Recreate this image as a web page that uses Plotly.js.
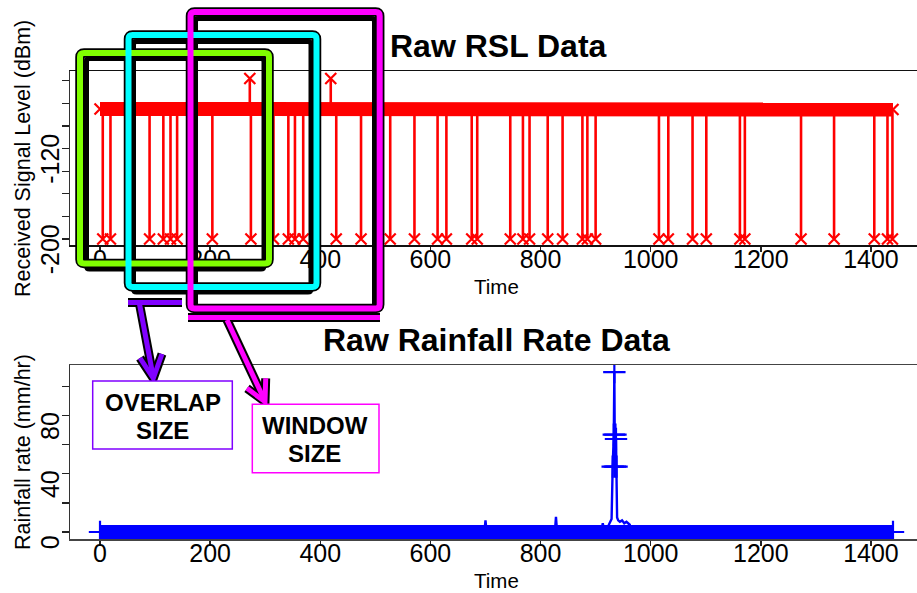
<!DOCTYPE html>
<html>
<head>
<meta charset="utf-8">
<script src="https://cdn.plot.ly/plotly-3.0.1.min.js"></script>
<style>
html,body{margin:0;padding:0;background:#fff;}
#chart{width:917px;height:593px;}
</style>
</head>
<body>
<div id="chart"></div>
<script>
// ---------------- DATA ----------------
const timeTickVals = [0, 200, 400, 600, 800, 1000, 1200, 1400];
const timeTickText = ['0', '200', '400', '600', '800', '1000', '1200', '1400'];
const rslTickVals = [-200, -180, -160, -140, -120, -100, -80, -60];
const rslTickText = ['-200', '', '', '', '-120', '', '', ''];
const rainTickVals = [0, 20, 40, 60, 80, 100];
const rainTickText = ['0', '', '40', '', '80', ''];

// RSL: normal (dense) level over the day
const rslBaseTimes = [0, 100, 200, 300, 400, 500, 600, 700, 800, 900, 950, 1000, 1100, 1200, 1300, 1400, 1440];
const rslBaseValues = [-85, -85, -85, -85, -85, -85, -85.5, -85.5, -85.5, -86.5, -87, -86.5, -86, -85.5, -85.5, -85.5, -85.5];
// RSL: drop-outs to the floor value
const rslDropTimes = [5, 19, 90, 115, 128, 140, 204, 274, 315, 342, 354, 369, 429, 474, 527, 571, 613, 629, 675, 685,
  745, 768, 780, 813, 840, 876, 885, 900, 1015, 1032, 1076, 1101, 1162, 1171, 1273, 1333, 1406, 1430, 1439];
const rslDropLevel = -200;
// RSL: upward outliers
const rslSpikeTimes = [272, 419];
const rslSpikeLevel = -58;

// Rainfall
const rainBaseTimes = [0, 1440];
const rainBaseValues = [0, 0];
const rainTimes = [0, 698, 700, 702, 826, 828, 830, 910, 913, 916, 924, 927, 929, 931, 933, 934, 935, 936, 937, 938, 939, 941, 944, 948, 952, 956, 962, 965, 1440];
const rainValues = [0, 0, 8, 0, 0, 10.5, 0, 0, 6, 0, 5, 7, 9, 45, 67, 110, 45, 67, 64, 45, 10, 8, 7, 8, 6, 7, 5, 0, 0];

// ---------------- HELPERS ----------------
const W = 917, H = 593;
const FONT = 'Liberation Sans, Arial, Helvetica, sans-serif';
const RED = '#ff0000', BLUE = '#0000ff';
function PX(x) { return (x / W).toFixed(5); }
function PY(y) { return (1 - y / H).toFixed(5); }
function P(x, y) { return PX(x) + ',' + PY(y); }
function poly(pts) { return pts.map((p, i) => (i ? 'L' : 'M') + P(p[0], p[1])).join(' '); }
function rrect(x0, y0, x1, y1, r) {
  return 'M' + P(x0 + r, y0) + ' L' + P(x1 - r, y0) + ' Q' + P(x1, y0) + ' ' + P(x1, y0 + r) +
    ' L' + P(x1, y1 - r) + ' Q' + P(x1, y1) + ' ' + P(x1 - r, y1) +
    ' L' + P(x0 + r, y1) + ' Q' + P(x0, y1) + ' ' + P(x0, y1 - r) +
    ' L' + P(x0, y0 + r) + ' Q' + P(x0, y0) + ' ' + P(x0 + r, y0) + ' Z';
}
function pathShape(path, color, width) {
  return { type: 'path', xref: 'paper', yref: 'paper', path: path, line: { color: color, width: width }, fillcolor: 'rgba(0,0,0,0)', layer: 'above' };
}
function baseAt(t) {
  for (let i = 0; i < rslBaseTimes.length - 1; i++) {
    if (t >= rslBaseTimes[i] && t <= rslBaseTimes[i + 1]) return rslBaseValues[i];
  }
  return rslBaseValues[rslBaseValues.length - 1];
}

// ---------------- TRACES ----------------
const dropX = [], dropY = [];
rslDropTimes.forEach(t => { dropX.push(t, t, null); dropY.push(baseAt(t), rslDropLevel, null); });
const spikeX = [], spikeY = [];
rslSpikeTimes.forEach(t => { spikeX.push(t, t, null); spikeY.push(baseAt(t), rslSpikeLevel, null); });
const rslMarkX = [rslBaseTimes[0]].concat(rslDropTimes, rslSpikeTimes, [rslBaseTimes[rslBaseTimes.length - 1]]);
const rslMarkY = [rslBaseValues[0]].concat(rslDropTimes.map(() => rslDropLevel), rslSpikeTimes.map(() => rslSpikeLevel), [rslBaseValues[rslBaseValues.length - 1]]);

const rainMarkX = [], rainMarkY = [];
rainTimes.forEach((t, i) => {
  if (i === 0 || i === rainTimes.length - 1 || rainValues[i] >= 40) { rainMarkX.push(t); rainMarkY.push(rainValues[i]); }
});

const data = [
  { x: rslBaseTimes, y: rslBaseValues, xaxis: 'x', yaxis: 'y', mode: 'lines', line: { color: RED, width: 14 }, hoverinfo: 'skip' },
  { x: dropX, y: dropY, xaxis: 'x', yaxis: 'y', mode: 'lines', line: { color: RED, width: 2.6 }, hoverinfo: 'skip' },
  { x: spikeX, y: spikeY, xaxis: 'x', yaxis: 'y', mode: 'lines', line: { color: RED, width: 2.6 }, hoverinfo: 'skip' },
  { x: rslMarkX, y: rslMarkY, xaxis: 'x', yaxis: 'y', mode: 'markers', marker: { symbol: 'x-thin', size: 11, color: RED, line: { color: RED, width: 2.2 } }, hoverinfo: 'skip' },
  { x: rainBaseTimes, y: rainBaseValues, xaxis: 'x2', yaxis: 'y2', mode: 'lines', line: { color: BLUE, width: 14 }, hoverinfo: 'skip' },
  { x: rainTimes, y: rainValues, xaxis: 'x2', yaxis: 'y2', mode: 'lines', line: { color: BLUE, width: 2.4 }, hoverinfo: 'skip' },
  { x: rainMarkX, y: rainMarkY, xaxis: 'x2', yaxis: 'y2', mode: 'markers', marker: { symbol: 'cross-thin', size: 16, color: BLUE, line: { color: BLUE, width: 2.2 } }, hoverinfo: 'skip' }
];

// ---------------- AXES ----------------
const tickFont = { family: FONT, size: 25, color: '#000' };
function xAx(anchor, lineColor) {
  return {
    domain: [70 / W, 1], anchor: anchor, range: [-54.5, 1483.6],
    tickmode: 'array', tickvals: timeTickVals, ticktext: timeTickText,
    ticks: 'outside', ticklen: 5, tickwidth: 1.5, tickcolor: '#222',
    showline: true, linewidth: 1.5, linecolor: lineColor, mirror: true,
    showgrid: false, zeroline: false, tickfont: tickFont, ticklabelstandoff: -14
  };
}
function yAx(anchor, domain, range, vals, text) {
  return {
    domain: domain, anchor: anchor, range: range,
    tickmode: 'array', tickvals: vals, ticktext: text, tickangle: -90,
    ticks: 'outside', ticklen: 7, tickwidth: 1.2, tickcolor: '#222',
    showline: true, linewidth: 1.2, linecolor: '#333', mirror: false,
    showgrid: false, zeroline: false, tickfont: tickFont, ticklabelstandoff: -7, ticklabelshift: 14
  };
}

// ---------------- DECORATION (overlay boxes & arrows) ----------------
const GREEN = '#80ff00', CYAN = '#00ffff', MAGENTA = '#ff00ff', PURPLE = '#8000ff';
const boxes = [
  { c: GREEN, o: [80, 53, 269, 263.5], i: [86.5, 58.5, 264, 269] },
  { c: CYAN, o: [128.5, 35, 316.5, 287], i: [133.5, 41.5, 311, 292] },
  { c: MAGENTA, o: [190.5, 12, 379.7, 308.5], i: [195.5, 18.5, 374.5, 313.5] }
];
const purpleArrow = [
  [[128, 302.5], [182, 302.5]],
  [[139.5, 304], [153, 376]],
  [[140, 358], [153.3, 378.3], [162, 354]]
];
const magentaArrow = [
  [[188, 317.5], [380, 317.5]],
  [[227, 320], [264, 399]],
  [[247, 388.3], [265, 401.7], [265.7, 378.3]]
];
const shapes = [];
boxes.forEach(b => shapes.push(pathShape(rrect(b.i[0], b.i[1], b.i[2], b.i[3], 3), '#000', 5)));
boxes.forEach(b => shapes.push(pathShape(rrect(b.o[0], b.o[1], b.o[2], b.o[3], 4), '#000', 9.5)));
purpleArrow.forEach(p => shapes.push(pathShape(poly(p), '#000', 9)));
magentaArrow.forEach(p => shapes.push(pathShape(poly(p), '#000', 9)));
boxes.forEach(b => shapes.push(pathShape(rrect(b.o[0], b.o[1], b.o[2], b.o[3], 4), b.c, 6)));
purpleArrow.forEach(p => shapes.push(pathShape(poly(p), PURPLE, 5)));
magentaArrow.forEach(p => shapes.push(pathShape(poly(p), MAGENTA, 5)));
// label boxes
shapes.push({ type: 'rect', xref: 'paper', yref: 'paper', x0: PX(92.7), x1: PX(232.3), y0: PY(449), y1: PY(381), line: { color: PURPLE, width: 1.5 }, fillcolor: '#fff', layer: 'above' });
shapes.push({ type: 'rect', xref: 'paper', yref: 'paper', x0: PX(252.3), x1: PX(379), y0: PY(472.7), y1: PY(404.3), line: { color: MAGENTA, width: 1.5 }, fillcolor: '#fff', layer: 'above' });

function ann(text, x, y, size, bold, angle) {
  return {
    xref: 'paper', yref: 'paper', x: PX(x), y: PY(y), text: bold ? '<b>' + text + '</b>' : text, showarrow: false,
    xanchor: 'center', yanchor: 'middle', textangle: angle || 0,
    font: { family: FONT, size: size, color: '#000' }
  };
}
const annotations = [
  ann('Raw RSL Data', 498, 46, 32, true),
  ann('Raw Rainfall Rate Data', 497, 340, 32, true),
  ann('Time', 497, 286.7, 20.5, false),
  ann('Time', 497, 580.5, 20.5, false),
  ann('Received Signal Level (dBm)', 23, 158, 21.5, false, -90),
  ann('Rainfall rate (mm/hr)', 23, 452, 21.5, false, -90),
  ann('OVERLAP', 162.5, 402.5, 24, true),
  ann('SIZE', 162.5, 430.5, 24, true),
  ann('WINDOW', 314.5, 425.3, 24, true),
  ann('SIZE', 314.5, 453.8, 24, true)
];

const layout = {
  width: W, height: H,
  margin: { l: 0, r: 0, t: 0, b: 0, pad: 0 },
  paper_bgcolor: '#fff', plot_bgcolor: '#fff',
  showlegend: false,
  font: { family: FONT, color: '#000' },
  xaxis: xAx('y', '#111'),
  yaxis: yAx('x', [1 - 245 / H, 1 - 71 / H], [-205.3, -51.4], rslTickVals, rslTickText),
  xaxis2: xAx('y2', '#444'),
  yaxis2: yAx('x2', [1 - 539 / H, 1 - 365 / H], [-4.8, 114.9], rainTickVals, rainTickText),
  shapes: shapes,
  annotations: annotations
};

Plotly.newPlot('chart', data, layout, { staticPlot: true, displayModeBar: false });
</script>
</body>
</html>
